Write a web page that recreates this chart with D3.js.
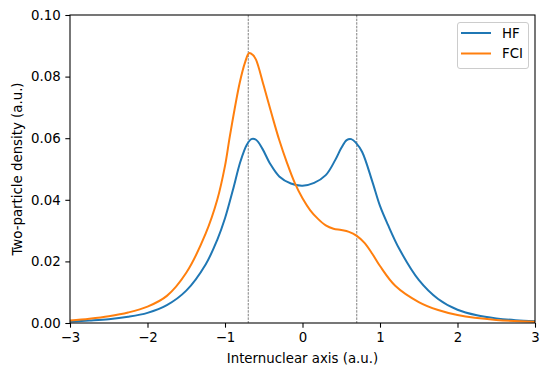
<!DOCTYPE html>
<html><head><meta charset="utf-8">
<script src="https://cdn.jsdelivr.net/npm/d3@7"></script>
<style>body{margin:0;background:#fff}svg{display:block;font-family:"DejaVu Sans",sans-serif}</style>
</head><body>
<svg id="c" width="549" height="376"></svg>
<script>
const hfX = [-3,-2.75,-2.5,-2.25,-2,-1.75,-1.5,-1.25,-1.1,-1,-0.9,-0.8,-0.72,-0.66,-0.6,-0.52,-0.42,-0.3,-0.15,0,0.15,0.3,0.42,0.5,0.57,0.63,0.69,0.77,0.9,1,1.1,1.25,1.5,1.75,2,2.25,2.5,2.75,3];
const hfY = [0.0005,0.0008,0.0012,0.002,0.0033,0.0058,0.0105,0.019,0.027,0.034,0.043,0.0525,0.0578,0.0597,0.0595,0.0567,0.0518,0.0476,0.0453,0.0446,0.0455,0.048,0.0528,0.0568,0.0594,0.0597,0.0585,0.0555,0.046,0.038,0.032,0.024,0.014,0.0078,0.0043,0.0025,0.0015,0.0009,0.0006];
const fciX = [-3,-2.75,-2.5,-2.25,-2,-1.75,-1.5,-1.25,-1.1,-1,-0.935,-0.81,-0.74,-0.69,-0.64,-0.6,-0.5,-0.4,-0.3,-0.2,-0.1,0,0.1,0.2,0.3,0.4,0.5,0.6,0.7,0.8,0.9,1,1.2,1.5,1.75,2,2.5,3];
const fciY = [0.0008,0.0014,0.0022,0.0034,0.0053,0.0088,0.0163,0.029,0.040,0.051,0.061,0.078,0.0847,0.0876,0.087,0.0855,0.077,0.068,0.0594,0.052,0.0455,0.0405,0.0366,0.0338,0.0317,0.0306,0.0302,0.0296,0.0283,0.0260,0.0225,0.0185,0.012,0.0068,0.0042,0.0026,0.001,0.0004];
const xTicks = [-3,-2,-1,0,1,2,3];
const yTicks = [0,0.02,0.04,0.06,0.08,0.10];
const vLines = [-0.7,0.7];
const seriesNames = ["HF","FCI"];
const colors = ["#1f77b4","#ff7f0e"];

const L=70,T=15,R=535,B=323;
const svg=d3.select("#c");
const x=d3.scaleLinear().domain([-3,3]).range([L,R]);
const y=d3.scaleLinear().domain([0,0.1]).range([B,T]);
const fs="13.33px";

svg.append("defs").append("clipPath").attr("id","cp").append("rect")
 .attr("x",L).attr("y",T).attr("width",R-L).attr("height",B-T);

const g=svg.append("g").attr("clip-path","url(#cp)");
vLines.forEach(v=>{
  g.append("line").attr("x1",x(v)).attr("x2",x(v)).attr("y1",T).attr("y2",B)
   .attr("stroke","#444").attr("stroke-width",0.67).attr("stroke-dasharray","2.5,1.1");
});
const line=d3.line().curve(d3.curveCatmullRom.alpha(0.5)).x(d=>x(d[0])).y(d=>y(d[1]));
const data=[hfX.map((v,i)=>[v,hfY[i]]), fciX.map((v,i)=>[v,fciY[i]])];
data.forEach((d,i)=>{
  g.append("path").datum(d).attr("d",line).attr("fill","none")
   .attr("stroke",colors[i]).attr("stroke-width",2).attr("stroke-linejoin","round").attr("stroke-linecap","square");
});

const xa=svg.append("g").attr("transform",`translate(0,${B})`)
 .call(d3.axisBottom(x).tickValues(xTicks).tickSize(4.67).tickPadding(4.7).tickFormat(d=>d<0?"\u2212"+Math.abs(d):d));
const ya=svg.append("g").attr("transform",`translate(${L},0)`)
 .call(d3.axisLeft(y).tickValues(yTicks).tickSize(4.67).tickPadding(4.7).tickFormat(d3.format(".2f")));
[xa,ya].forEach(a=>{
  a.select(".domain").remove();
  a.selectAll("line").attr("stroke","#000").attr("stroke-width",1.07);
  a.selectAll("text").attr("fill","#000").style("font-size",fs).style("font-family","DejaVu Sans");
});
svg.append("rect").attr("x",L).attr("y",T).attr("width",R-L).attr("height",B-T)
 .attr("fill","none").attr("stroke","#000").attr("stroke-width",1.07);

svg.append("text").attr("x",(L+R)/2).attr("y",363).attr("text-anchor","middle")
 .style("font-size",fs).text("Internuclear axis (a.u.)");
svg.append("text").attr("transform",`translate(22,${(T+B)/2}) rotate(-90)`).attr("text-anchor","middle")
 .style("font-size",fs).text("Two-particle density (a.u.)");

const lg=svg.append("g");
lg.append("rect").attr("x",457.5).attr("y",22.5).attr("width",71).attr("height",46).attr("rx",2.5)
 .attr("fill","#fff").attr("fill-opacity",0.8).attr("stroke","#ccc").attr("stroke-width",1);
seriesNames.forEach((n,i)=>{
  const yy=33+i*20.5;
  lg.append("line").attr("x1",461).attr("x2",491).attr("y1",yy).attr("y2",yy).attr("stroke",colors[i]).attr("stroke-width",2);
  lg.append("text").attr("x",502).attr("y",yy+4.7).style("font-size",fs).text(n);
});
</script>
</body></html>
